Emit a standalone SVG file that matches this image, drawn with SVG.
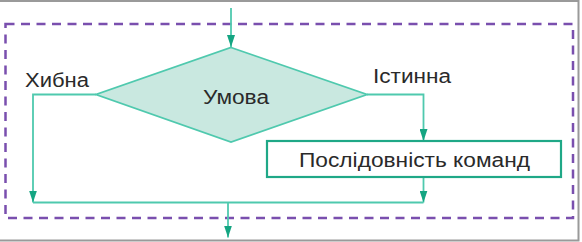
<svg xmlns="http://www.w3.org/2000/svg" width="582" height="242" viewBox="0 0 582 242">
<defs>
<style>
.frame{fill:none;stroke:#9a9a9a;stroke-width:2}
.group{fill:none;stroke:#7a4fae;stroke-width:2.5;stroke-dasharray:9 6.5}
.flow{fill:none;stroke:#4fc9ae;stroke-width:1.8}
.dec{fill:#c9e8e0;stroke:#4fc9ae;stroke-width:1.8}
.proc{fill:#ffffff;stroke:#1fa887;stroke-width:2.2}
.lbl{font-family:"Liberation Sans",Arial,sans-serif;font-size:20px;fill:#2a2a2a}
</style>
<marker id="arr" viewBox="0 0 12 8" refX="12" refY="4" markerWidth="12" markerHeight="8" markerUnits="userSpaceOnUse" orient="auto">
<path d="M0,0 L12,4 L0,8 Z" fill="#14a582"/>
</marker>
</defs>
<rect width="582" height="242" fill="#ffffff"/>
<path class="frame" d="M0,1 H578.5 V240.5 H0"/>
<rect class="group" x="5.5" y="24" width="567.5" height="194"/>
<g id="connectors">
<path class="flow" d="M231,8 V47" marker-end="url(#arr)"/>
<path class="flow" d="M96,94.5 H33 V202.5" marker-end="url(#arr)"/>
<path class="flow" d="M367,94.5 H423.5 V141" marker-end="url(#arr)"/>
<path class="flow" d="M423.5,177 V202.5" marker-end="url(#arr)"/>
<path class="flow" d="M33,202.5 H423.5"/>
<path class="flow" d="M228,202.5 V237.5" marker-end="url(#arr)"/>
</g>
<g id="condition">
<polygon class="dec" points="231,47.5 367,94.5 231,142 96,94.5"/>
<text class="lbl" x="203" y="104" textLength="66" lengthAdjust="spacingAndGlyphs">Умова</text>
</g>
<g id="label-false">
<text class="lbl" x="25" y="87" textLength="64" lengthAdjust="spacingAndGlyphs">Хибна</text>
</g>
<g id="label-true">
<text class="lbl" x="373" y="83" textLength="78" lengthAdjust="spacingAndGlyphs">Істинна</text>
</g>
<g id="commands">
<rect class="proc" x="267" y="141" width="294" height="36"/>
<text class="lbl" x="299" y="166.5" textLength="231" lengthAdjust="spacingAndGlyphs">Послідовність команд</text>
</g>
</svg>
